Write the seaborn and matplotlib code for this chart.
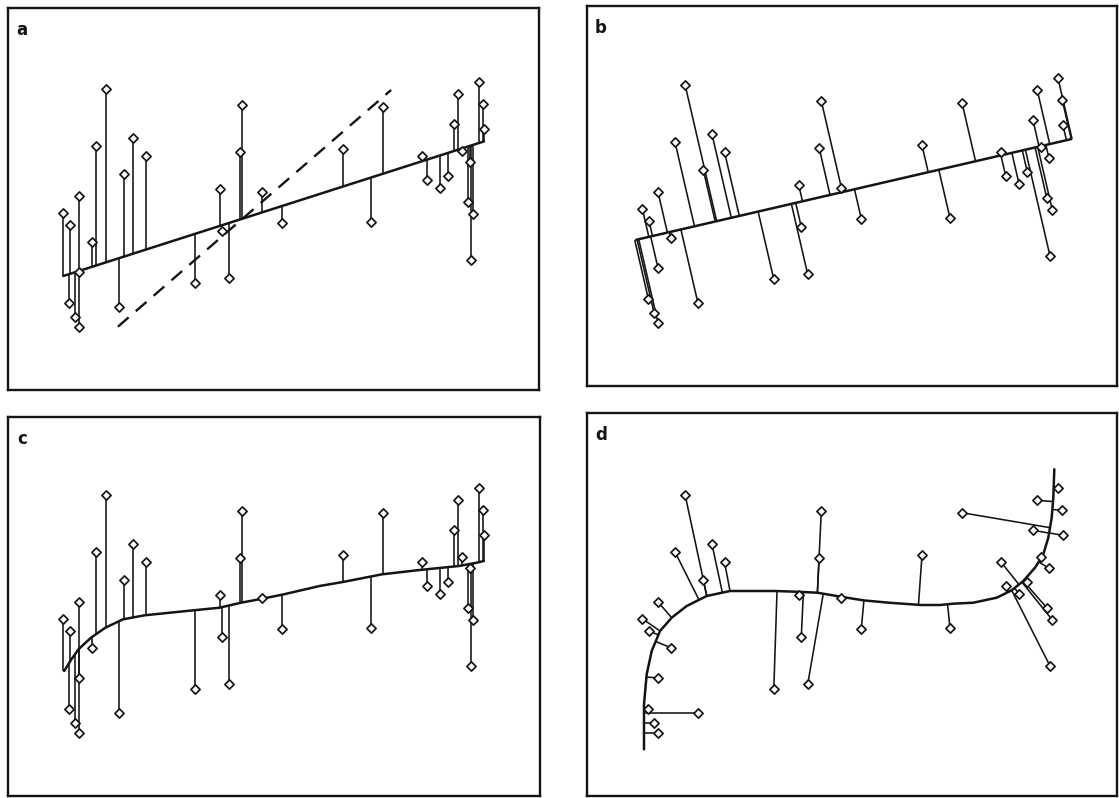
import numpy as np
import matplotlib
matplotlib.use("Agg")
import matplotlib.pyplot as plt
import seaborn as sns
from matplotlib.collections import LineCollection

sns.set_theme(style="white")
plt.rcParams['font.family'] = ['DejaVu Sans']

# Observations (x, y), same sample shown in all four panels
obs_x = [55.3, 62.0, 61.3, 67.0, 71.0, 71.0, 83.7, 87.9, 98.2, 111.0,
         116.3, 125.0, 137.5, 186.8, 211.8, 214.3, 220.7, 232.1, 234.3, 253.9,
         274.3, 335.0, 362.9, 375.0, 413.7, 418.7, 432.0, 440.3, 446.0, 450.3,
         453.7, 459.7, 465.3, 463.0, 471.0, 475.3, 476.0, 462.0, 71.0]
obs_y = [177.3, 165.0, 87.3, 73.3, 63.3, 194.0, 148.3, 244.3, 300.7, 82.7,
         216.0, 251.7, 234.0, 106.7, 200.7, 159.0, 111.7, 238.3, 285.0, 197.7,
         167.3, 240.7, 168.3, 283.3, 234.3, 210.0, 202.3, 214.0, 265.7, 295.7,
         239.0, 188.3, 176.0, 130.0, 307.7, 285.7, 260.7, 227.7, 118.0]

# (a) least-squares line of y on x, and the dashed comparison line
ols_x = [55.3, 476.0]
ols_y = [114.0, 248.6]
dash_x = [109.9, 383.1]
dash_y = [63.3, 300.0]

# (b) first principal component line
pc_x = [49.2, 484.2]
pc_y = [146.2, 246.9]

# (c) smooth regression curve
smooth_x = [56.2, 63.4, 70.5, 83.0, 97.3, 115.1, 136.6, 168.7, 211.6, 233.0,
            254.4, 275.9, 311.6, 334.8, 374.1, 411.6, 450.9, 468.7, 475.9]
smooth_y = [125.0, 136.7, 146.7, 158.3, 168.3, 176.7, 180.7, 184.0, 188.3, 193.3,
            197.3, 201.7, 210.0, 214.0, 221.7, 226.0, 230.0, 233.3, 235.0]

# (d) principal curve
pcurve_x = [57.0, 57.0, 59.7, 64.7, 73.0, 84.7, 99.7, 119.7, 143.0, 158.9,
            187.5, 208.9, 230.4, 255.4, 276.8, 301.8, 333.9, 353.0, 366.1, 386.3,
            409.7, 424.7, 436.3, 448.0, 456.3, 461.3, 464.7, 466.3, 467.3]
pcurve_y = [46.7, 91.7, 121.7, 145.0, 165.0, 178.3, 190.0, 200.0, 205.0, 205.0,
            205.0, 204.3, 203.3, 199.0, 195.6, 193.3, 191.0, 191.0, 192.3, 193.3,
            198.3, 205.7, 215.0, 228.3, 241.7, 258.3, 278.3, 298.3, 326.7]

labels = ["a", "b", "c", "d"]

P = np.column_stack([obs_x, obs_y])


def vertical_feet_line(lx, ly):
    slope = (ly[1] - ly[0]) / (lx[1] - lx[0])
    fy = ly[0] + slope * (P[:, 0] - lx[0])
    return np.column_stack([P[:, 0], fy])


def orthogonal_feet_line(lx, ly):
    p0 = np.array([lx[0], ly[0]])
    u = np.array([lx[1] - lx[0], ly[1] - ly[0]])
    u = u / np.linalg.norm(u)
    t = (P - p0) @ u
    return p0 + np.outer(t, u)


def vertical_feet_curve(cx, cy):
    return np.column_stack([P[:, 0], np.interp(P[:, 0], cx, cy)])


def nearest_feet_curve(cx, cy):
    A = np.column_stack([cx[:-1], cy[:-1]])
    B = np.column_stack([cx[1:], cy[1:]])
    feet = []
    for p in P:
        d = B - A
        L2 = (d ** 2).sum(1)
        t = np.clip(((p - A) * d).sum(1) / L2, 0, 1)
        Q = A + d * t[:, None]
        k = np.argmin(((Q - p) ** 2).sum(1))
        feet.append(Q[k])
    return np.array(feet)


fig = plt.figure(figsize=(11.19, 7.98), dpi=100)
W, H = 1119.0, 798.0
boxes = {
    "a": (8, 8, 539, 390),
    "b": (587, 6, 1117, 386),
    "c": (8, 417, 540, 796),
    "d": (587, 413, 1117, 796),
}

ink = "#141414"

for lab in labels:
    l, t, r, b = boxes[lab]
    ax = fig.add_axes([l / W, 1 - b / H, (r - l) / W, (b - t) / H])
    ax.set_xlim(0, r - l)
    ax.set_ylim(0, b - t)

    if lab == "a":
        cx, cy = ols_x, ols_y
        feet = vertical_feet_line(ols_x, ols_y)
    elif lab == "b":
        cx, cy = pc_x, pc_y
        feet = orthogonal_feet_line(pc_x, pc_y)
    elif lab == "c":
        cx, cy = smooth_x, smooth_y
        feet = vertical_feet_curve(smooth_x, smooth_y)
    else:
        cx, cy = pcurve_x, pcurve_y
        feet = nearest_feet_curve(np.array(pcurve_x), np.array(pcurve_y))

    segs = [[tuple(p), tuple(f)] for p, f in zip(P, feet)]
    ax.add_collection(LineCollection(segs, colors=ink, linewidths=1.15, zorder=2))

    sns.lineplot(x=cx, y=cy, sort=False, color=ink, linewidth=1.8, ax=ax,
                 estimator=None, zorder=2)
    if lab == "a":
        sns.lineplot(x=dash_x, y=dash_y, sort=False, color=ink, linewidth=1.7,
                     ax=ax, estimator=None, dashes=False, zorder=2,
                     linestyle=(0, (6.0, 4.0)))

    sns.scatterplot(x=obs_x, y=obs_y, marker="D", s=22, facecolor="white",
                    edgecolor=ink, linewidth=1.25, ax=ax, zorder=3)

    ax.set_xticks([])
    ax.set_yticks([])
    for sp in ax.spines.values():
        sp.set_visible(True)
        sp.set_color(ink)
        sp.set_linewidth(1.7)
    ax.text(14 / (r - l), 1 - 22 / (b - t), lab, transform=ax.transAxes,
            fontsize=12, fontweight="bold", color=ink, ha="center", va="center")

fig.savefig("out.png", dpi=100, facecolor="white")
